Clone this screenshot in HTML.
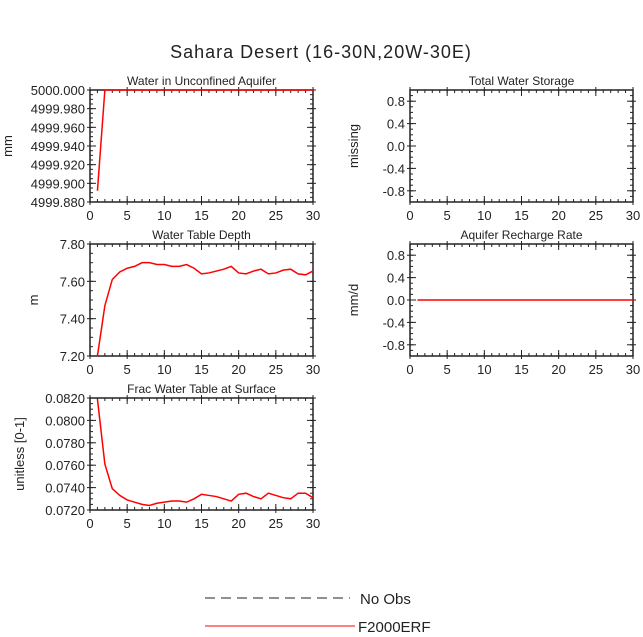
<!DOCTYPE html>
<html><head><meta charset="utf-8"><style>
body{margin:0;background:#fff;}
svg text{font-family:"Liberation Sans",sans-serif;fill:#222;}
</style></head><body>
<svg id="c" width="643" height="632" xmlns="http://www.w3.org/2000/svg">
<text x="321" y="58" text-anchor="middle" font-size="18" letter-spacing="1">Sahara Desert (16-30N,20W-30E)</text>
</svg>
<script>
const days = Array.from({length:30},(_,i)=>i+1);
const aquiferVals = [4999.892,5000,5000,5000,5000,5000,5000,5000,5000,5000,5000,5000,5000,5000,5000,5000,5000,5000,5000,5000,5000,5000,5000,5000,5000,5000,5000,5000,5000,5000];
const wtdVals = [7.20,7.47,7.61,7.65,7.67,7.68,7.70,7.70,7.69,7.69,7.68,7.68,7.69,7.67,7.64,7.645,7.655,7.665,7.68,7.645,7.64,7.655,7.665,7.64,7.645,7.66,7.665,7.64,7.635,7.655];
const fracVals = [0.0819,0.0761,0.0739,0.0733,0.0729,0.0727,0.0725,0.0724,0.0726,0.0727,0.0728,0.0728,0.0727,0.0730,0.0734,0.0733,0.0732,0.0730,0.0728,0.0734,0.0735,0.0732,0.0730,0.0735,0.0733,0.0731,0.0730,0.0735,0.0735,0.0731];
const rechargeVals = new Array(30).fill(0);
const xTicks = [0,5,10,15,20,25,30];
const aqTicks = [4999.88,4999.90,4999.92,4999.94,4999.96,4999.98,5000.00];
const wtdTicks = [7.2,7.4,7.6,7.8];
const fracTicks = [0.072,0.074,0.076,0.078,0.080,0.082];
const symTicks = [-0.8,-0.4,0,0.4,0.8];
const svg=document.getElementById('c');
const NS='http://www.w3.org/2000/svg';
function mk(t,a,p){const e=document.createElementNS(NS,t);for(const k in a)e.setAttribute(k,a[k]);(p||svg).appendChild(e);return e;}
function panel(o){
  const g=mk('g',{});
  
  
  const X=v=>o.x+(v-0)/30*o.w;
  const Y=v=>o.y+o.h-(v-o.ymin)/(o.ymax-o.ymin)*o.h;
  // minor ticks
  for(let v=0;v<=30;v+=1){mk('line',{x1:X(v),x2:X(v),y1:o.y+o.h,y2:o.y+o.h-3,stroke:'#222'},g);mk('line',{x1:X(v),x2:X(v),y1:o.y,y2:o.y+3,stroke:'#222'},g);}
  const ms=o.minor;
  for(let v=o.ymin;v<=o.ymax+1e-9;v+=ms){mk('line',{x1:o.x,x2:o.x+3,y1:Y(v),y2:Y(v),stroke:'#222'},g);mk('line',{x1:o.x+o.w,x2:o.x+o.w-3,y1:Y(v),y2:Y(v),stroke:'#222'},g);}
  xTicks.forEach(v=>{mk('line',{x1:X(v),x2:X(v),y1:o.y+o.h+3,y2:o.y+o.h-6,stroke:'#222'},g);mk('line',{x1:X(v),x2:X(v),y1:o.y-3,y2:o.y+6,stroke:'#222'},g);
    const t=mk('text',{x:X(v),y:o.y+o.h+18,'text-anchor':'middle','font-size':13},g);t.textContent=v;});
  o.ticks.forEach(v=>{mk('line',{x1:o.x-3,x2:o.x+6,y1:Y(v),y2:Y(v),stroke:'#222'},g);mk('line',{x1:o.x+o.w+3,x2:o.x+o.w-6,y1:Y(v),y2:Y(v),stroke:'#222'},g);
    const t=mk('text',{x:o.x-5,y:Y(v)+5,'text-anchor':'end','font-size':13},g);t.textContent=v.toFixed(o.dec);});
  mk('rect',{x:o.x,y:o.y,width:o.w,height:o.h,fill:'none',stroke:'#222','stroke-width':1.5},g);
  const tt=mk('text',{x:o.x+o.w/2,y:o.y-5,'text-anchor':'middle','font-size':12},g);tt.textContent=o.title;
  const yl=mk('text',{x:0,y:0,'text-anchor':'middle','font-size':13,transform:`translate(${o.ylx},${o.y+o.h/2}) rotate(-90)`},g);yl.textContent=o.ylab;
  if(o.data){
    const pts=days.map((d,i)=>X(d)+','+Y(o.data[i])).join(' ');
    const pl=mk('polyline',{points:pts,fill:'none',stroke:'#f00','stroke-width':1.5},g);
    
    
  }
}
panel({name:'aquifer-panel',x:90,y:90,w:223,h:112,ymin:4999.88,ymax:5000,ticks:aqTicks,minor:0.005,dec:3,title:'Water in Unconfined Aquifer',ylab:'mm',ylx:12,data:aquiferVals});
panel({name:'storage-panel',x:410,y:90,w:223,h:112,ymin:-1,ymax:1,ticks:symTicks,minor:0.1,dec:1,title:'Total Water Storage',ylab:'missing',ylx:358,data:null});
panel({name:'wtd-panel',x:90,y:244,w:223,h:112,ymin:7.2,ymax:7.8,ticks:wtdTicks,minor:0.05,dec:2,title:'Water Table Depth',ylab:'m',ylx:38,data:wtdVals});
panel({name:'recharge-panel',x:410,y:244,w:223,h:112,ymin:-1,ymax:1,ticks:symTicks,minor:0.1,dec:1,title:'Aquifer Recharge Rate',ylab:'mm/d',ylx:358,data:rechargeVals});
panel({name:'frac-panel',x:90,y:398,w:223,h:112,ymin:0.072,ymax:0.082,ticks:fracTicks,minor:0.0005,dec:4,title:'Frac Water Table at Surface',ylab:'unitless [0-1]',ylx:24,data:fracVals});
</script>
<svg style="position:absolute;left:0;top:0" width="643" height="632">
<g>
<line x1="205" y1="598" x2="350" y2="598" stroke="#222" stroke-dasharray="10,6"/>
<text x="360" y="604" font-size="15" font-family="Liberation Sans,sans-serif" fill="#222">No Obs</text>
<line x1="205" y1="626" x2="355" y2="626" stroke="#f00"/>
<text x="358" y="632" font-size="15" font-family="Liberation Sans,sans-serif" fill="#222">F2000ERF</text>
</g>
</svg>
</body></html>
